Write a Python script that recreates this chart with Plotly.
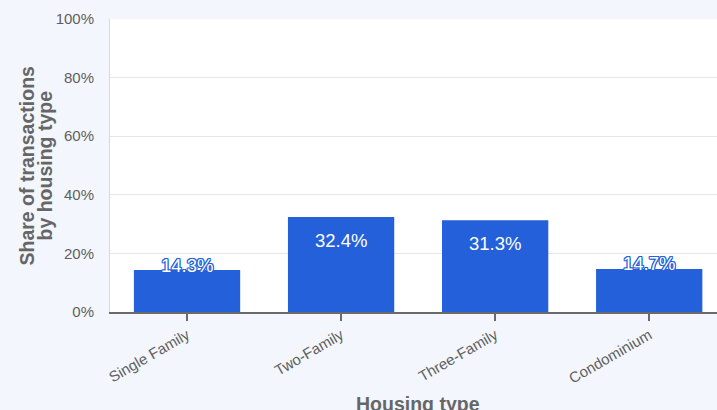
import plotly.graph_objects as go

# Share of transactions by housing type
housing_types = ["Single Family", "Two-Family", "Three-Family", "Condominium"]
share_pct = [14.3, 32.4, 31.3, 14.7]
y_ticks = [0, 20, 40, 60, 80, 100]
y_title_lines = ["Share of transactions", "by housing type"]
x_title = "Housing type"

BAR_COLOR = "#2360DA"
BG = "#F3F6FC"
TEXT_GRAY = "#5f5f5f"
TITLE_GRAY = "#666666"
FONT = "Liberation Sans, Arial, Helvetica, sans-serif"

fig = go.Figure(
    go.Bar(
        x=housing_types,
        y=share_pct,
        marker=dict(color=BAR_COLOR, line=dict(width=0)),
        hoverinfo="skip",
    )
)

# value labels: tall bars carry them inside near the top, short bars
# straddle the bar top with an outlined white label
outline = ", ".join(
    f"{dx}px {dy}px 0 {BAR_COLOR}" for dx in (-1, 0, 1) for dy in (-1, 0, 1) if dx or dy
)
annotations = []
for cat, val in zip(housing_types, share_pct):
    tall = val > 25
    annotations.append(
        dict(
            x=cat,
            y=val,
            xref="x",
            yref="y",
            text=f"{val:.1f}%",
            showarrow=False,
            yanchor="middle",
            yshift=-23 if tall else 5,
            font=dict(
                family=FONT,
                size=18.5,
                color="white",
                shadow="none" if tall else outline,
            ),
        )
    )

# two-line y-axis title
for line, xs in zip(y_title_lines, (-84, -66)):
    annotations.append(
        dict(
            x=0,
            y=0.5,
            xref="paper",
            yref="paper",
            xshift=xs,
            text=f"<b>{line}</b>",
            textangle=-90,
            showarrow=False,
            xanchor="center",
            yanchor="middle",
            font=dict(family=FONT, size=19.5, color=TITLE_GRAY),
        )
    )

# x-axis title
annotations.append(
    dict(
        x=0.507,
        y=0,
        xref="paper",
        yref="paper",
        yshift=-79,
        text=f"<b>{x_title}</b>",
        showarrow=False,
        xanchor="center",
        yanchor="top",
        font=dict(family=FONT, size=19.5, color=TITLE_GRAY),
    )
)

fig.update_layout(
    width=717,
    height=410,
    margin=dict(l=110, r=0, t=19, b=98, pad=0),
    paper_bgcolor=BG,
    plot_bgcolor="white",
    bargap=0.31,
    showlegend=False,
    font=dict(family=FONT, size=15, color=TEXT_GRAY),
    annotations=annotations,
    xaxis=dict(
        range=[-0.5, 3.44],
        showline=True,
        linecolor="#6a6a6a",
        linewidth=1.5,
        ticks="outside",
        ticklen=7,
        tickwidth=1.5,
        tickcolor="#6a6a6a",
        tickangle=-30,
        tickfont=dict(size=15, color=TEXT_GRAY),
        showgrid=False,
        fixedrange=True,
    ),
    yaxis=dict(
        range=[0, 100],
        tickvals=y_ticks,
        ticktext=[f"{v}%" for v in y_ticks],
        showgrid=True,
        gridcolor="#e4e6ea",
        gridwidth=1,
        showline=True,
        linecolor="#d6d8dc",
        linewidth=1,
        zeroline=False,
        ticks="",
        ticklabelstandoff=12,
        tickfont=dict(size=15, color=TEXT_GRAY),
        fixedrange=True,
    ),
)

fig.write_html("out.html", config={"displayModeBar": False})
